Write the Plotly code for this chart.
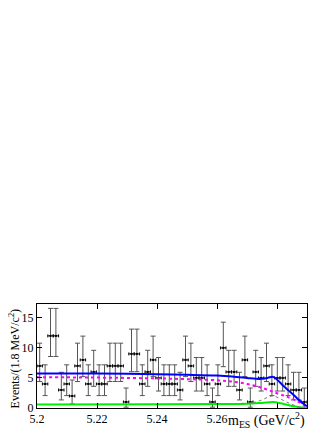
import numpy as np
import plotly.graph_objects as go

# m_ES bins, 1.8 MeV wide, 5.20 - 5.29 GeV
bin_lo = 5.20
bin_w = 0.0018
counts = [7, 4, 12, 12, 3, 4, 2, 7, 8, 4,
          6, 4, 4, 7, 7, 7, 1, 9, 9, 4,
          6, 8, 5, 4, 4, 4, 3, 8, 7, 5,
          5, 4, 1, 4, 10, 6, 6, 3, 8, 1,
          6, 5, 7, 4, 5, 5, 4, 3, 3, 1]

# fit curves
tot_x = [5.200, 5.210, 5.220, 5.230, 5.240, 5.250, 5.260, 5.265, 5.270, 5.273,
         5.275, 5.277, 5.2785, 5.280, 5.282, 5.284, 5.286, 5.288, 5.290]
tot_y = [5.75, 5.74, 5.72, 5.68, 5.62, 5.53, 5.40, 5.25, 5.00, 4.85,
         4.85, 5.02, 5.20, 4.75, 3.75, 2.85, 1.95, 1.05, 0.30]

bkg_x = [5.200, 5.210, 5.220, 5.230, 5.240, 5.250, 5.260, 5.265, 5.270, 5.275,
         5.280, 5.284, 5.287, 5.289, 5.290]
bkg_y = [5.12, 5.10, 5.06, 5.00, 4.92, 4.80, 4.62, 4.40, 4.00, 3.35,
         2.45, 1.75, 1.05, 0.50, 0.00]

bb_x = [5.200, 5.240, 5.260, 5.270, 5.275, 5.279, 5.282, 5.285, 5.288, 5.290]
bb_y = [0.60, 0.62, 0.65, 0.70, 0.85, 1.00, 0.70, 0.35, 0.10, 0.00]

sig_x = [5.268, 5.271, 5.273, 5.275, 5.277, 5.2785, 5.280, 5.282, 5.284, 5.286, 5.288]
sig_y = [0.70, 0.80, 1.00, 1.35, 1.80, 2.00, 1.80, 1.30, 0.80, 0.40, 0.10]

n = np.array(counts, dtype=float)
xc = bin_lo + bin_w * (np.arange(len(counts)) + 0.5)
# approximate poisson errors
err_hi = np.sqrt(n + 0.75) + 1.0
err_lo = n - np.clip(n - np.sqrt(np.maximum(n - 0.25, 0)), 0, None)

fig = go.Figure()

fig.add_trace(go.Scatter(
    x=xc, y=n, mode="markers",
    marker=dict(color="black", size=2, symbol="square"),
    error_y=dict(type="data", symmetric=False, array=err_hi, arrayminus=err_lo,
                 color="#555555", thickness=1, width=2.5),
    error_x=dict(type="constant", value=bin_w / 2, color="black", thickness=1, width=1.5),
    showlegend=False))

fig.add_trace(go.Scatter(x=bb_x, y=bb_y, mode="lines", line_shape="spline",
                         line=dict(color="#00ee00", width=2), showlegend=False))
fig.add_trace(go.Scatter(x=sig_x, y=sig_y, mode="lines", line_shape="spline",
                         line=dict(color="#777777", width=1, dash="dot"), showlegend=False))
fig.add_trace(go.Scatter(x=bkg_x, y=bkg_y, mode="lines", line_shape="spline",
                         line=dict(color="#ff00ff", width=2, dash="dot"), showlegend=False))
fig.add_trace(go.Scatter(x=tot_x, y=tot_y, mode="lines", line_shape="spline",
                         line=dict(color="#0000ff", width=2), showlegend=False))

serif = "Liberation Serif, Times New Roman, serif"

fig.update_xaxes(range=[5.2, 5.29], tickvals=[5.2, 5.22, 5.24, 5.26, 5.28],
                 ticktext=["5.2", "5.22", "5.24", "5.26", ""],
                 ticks="inside", ticklen=5, tickcolor="black", automargin=False,
                 showline=True, mirror="ticks", linecolor="black", linewidth=1,
                 showgrid=False, zeroline=False,
                 tickfont=dict(family=serif, size=12, color="black"))
fig.update_yaxes(range=[0, 17.3], tickvals=[0, 5, 10, 15],
                 ticks="inside", ticklen=5, tickcolor="black", automargin=False,
                 showline=True, mirror="ticks", linecolor="black", linewidth=1,
                 showgrid=False, zeroline=False,
                 tickfont=dict(family=serif, size=12, color="black"))

fig.add_annotation(text="Events/(1.8 MeV/c<sup>2</sup>)", textangle=-90,
                   xref="paper", yref="paper", x=-0.084, y=0.48,
                   xanchor="center", yanchor="middle", showarrow=False,
                   font=dict(family=serif, size=12, color="black"))
fig.add_annotation(text="m<sub>ES</sub> (GeV/c<sup>2</sup>)",
                   xref="paper", yref="paper", x=1.0, y=-0.115,
                   xanchor="right", yanchor="middle", showarrow=False,
                   font=dict(family=serif, size=14, color="black"))

# page body adds an 8px offset, so margins are shifted to compensate
fig.update_layout(width=332, height=430,
                  margin=dict(l=29, r=33, t=296, b=30),
                  paper_bgcolor="white", plot_bgcolor="white")

fig.write_html("out.html")
